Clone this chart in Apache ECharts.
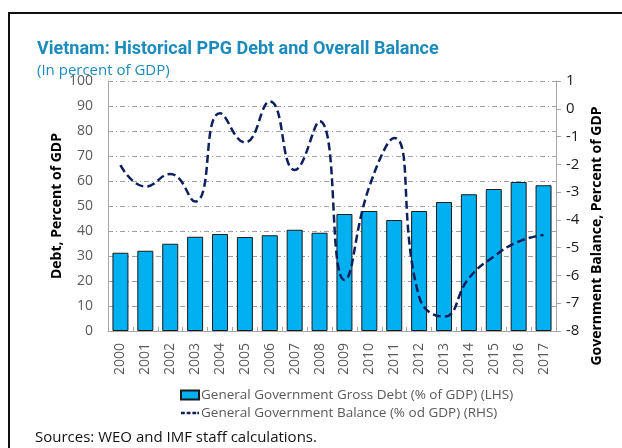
<!DOCTYPE html>
<html>
<head>
<meta charset="utf-8">
<script src="https://cdn.jsdelivr.net/npm/echarts@6/dist/echarts.min.js"></script>
<style>
html,body{margin:0;padding:0;background:#fff;}
#c{width:622px;height:448px;}
</style>
</head>
<body>
<div id="c"></div>
<script>
const years = ['2000','2001','2002','2003','2004','2005','2006','2007','2008','2009','2010','2011','2012','2013','2014','2015','2016','2017'];
const debt = [31.3, 32.1, 34.9, 37.7, 38.8, 37.6, 38.3, 40.5, 39.3, 46.8, 48.0, 44.4, 48.0, 51.6, 54.7, 56.8, 59.6, 58.3];
const balance = [-2.03, -2.8, -2.35, -3.34, -0.16, -1.21, 0.26, -2.2, -0.45, -6.16, -2.8, -1.05, -6.76, -7.48, -6.1, -5.32, -4.78, -4.54];
const leftTicks = {min: 0, max: 100, interval: 10};
const rightTicks = {min: -8, max: 1, interval: 1};
const debtName = 'General Government Gross Debt (% of GDP) (LHS)';
const balName = 'General Government Balance (% od GDP) (RHS)';

const chart = echarts.init(document.getElementById('c'), null, {renderer: 'canvas'});
const F = '"Open Sans", "Noto Sans", sans-serif';
chart.setOption({
  animation: false,
  textStyle: {fontFamily: F},
  title: [
    {text: 'Vietnam: Historical PPG Debt and Overall Balance', left: 32, top: 35,
     textStyle: {fontFamily: 'Roboto, sans-serif', fontWeight: 'bold', fontSize: 18, color: '#1b8bbd'}},
    {text: '(In percent of GDP)', left: 32, top: 58,
     textStyle: {fontFamily: F, fontWeight: 'normal', fontSize: 15, color: '#1b8bbd'}},
    {text: 'Sources: WEO and IMF staff calculations.', left: 30, top: 425,
     textStyle: {fontFamily: F, fontWeight: 'normal', fontSize: 15, color: '#111'}}
  ],
  graphic: [
    {type: 'rect', shape: {x: 9, y: 13, width: 700, height: 500}, style: {fill: 'none', stroke: '#111', lineWidth: 2}, silent: true},
    {type: 'text', x: 57, y: 206, rotation: Math.PI / 2,
     style: {text: 'Debt, Percent of GDP', textAlign: 'center', textVerticalAlign: 'middle', font: 'bold 14px "Open Sans", sans-serif', fill: '#000'}},
    {type: 'text', x: 597, y: 236, rotation: Math.PI / 2,
     style: {text: 'Government Balance, Percent of GDP', textAlign: 'center', textVerticalAlign: 'middle', font: 'bold 14px "Open Sans", sans-serif', fill: '#000'}}
  ],
  legend: {
    orient: 'vertical', left: 180, top: 388, padding: 0, itemGap: 4, itemWidth: 18, itemHeight: 9,
    textStyle: {color: '#595959', fontSize: 13.5, fontFamily: F, padding: [0,0,0,-3]},
    data: [
      {name: debtName, icon: 'rect'},
      {name: balName, icon: 'path://M0,0h5v3.2h-5z M7.5,0h5v3.2h-5z M15,0h5v3.2h-5z M21.5,0h2.2v3.2h-2.2z',
       itemStyle: {color: '#0e1f5e', borderWidth: 0}}
    ]
  },
  grid: {left: 108, right: 66, top: 81, bottom: 117, containLabel: false},
  xAxis: {
    type: 'category', data: years, boundaryGap: true,
    axisLine: {lineStyle: {color: '#a6a6a6', width: 1}},
    axisTick: {show: true, inside: true, length: 4, lineStyle: {color: '#a6a6a6'}},
    axisLabel: {rotate: 90, color: '#595959', fontSize: 14, margin: 12, fontFamily: F}
  },
  yAxis: [
    {type: 'value', min: leftTicks.min, max: leftTicks.max, interval: leftTicks.interval, position: 'left',
     axisLine: {show: true, lineStyle: {color: '#a6a6a6'}},
     axisTick: {show: false},
     axisLabel: {color: '#595959', fontSize: 14, margin: 15, fontFamily: F},
     splitLine: {show: true, lineStyle: {color: '#a0a0a0', width: 1, type: [5, 3, 1, 3]}}},
    {type: 'value', min: rightTicks.min, max: rightTicks.max, interval: rightTicks.interval, position: 'right',
     axisLine: {show: true, lineStyle: {color: '#a6a6a6'}},
     axisTick: {show: true, inside: false, length: 5, lineStyle: {color: '#a6a6a6'}},
     axisLabel: {color: '#1a1a1a', fontSize: 15, margin: 10, fontFamily: F},
     splitLine: {show: false}}
  ],
  series: [
    {name: debtName, type: 'bar', data: debt, yAxisIndex: 0, barWidth: 16,
     itemStyle: {color: '#00b0f0', borderColor: '#1a1a1a', borderWidth: 1}},
    {name: balName, type: 'line', data: balance, yAxisIndex: 1, smooth: 0.5,
     symbol: 'none', showSymbol: false,
     lineStyle: {color: '#0e1f5e', width: 2.5, type: [8, 4]},
     itemStyle: {color: '#0e1f5e'}}
  ]
});
</script>
</body>
</html>
